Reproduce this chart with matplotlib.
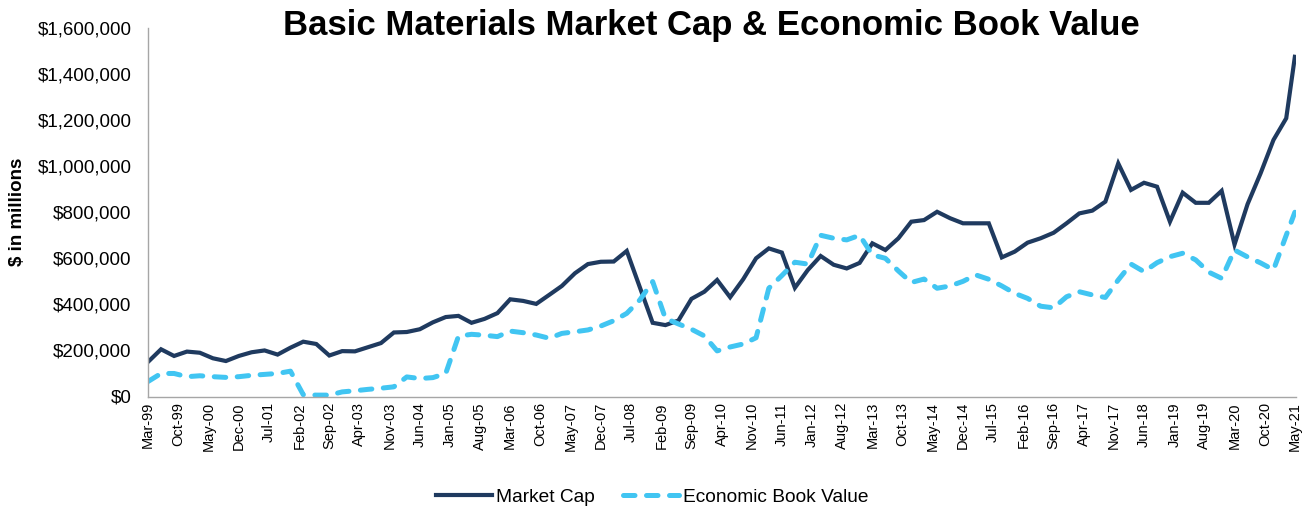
import matplotlib
matplotlib.use("Agg")
import matplotlib.pyplot as plt
import matplotlib.dates as mdates
from matplotlib.ticker import FuncFormatter
import pandas as pd

plt.rcParams['font.family'] = ['Liberation Sans', 'DejaVu Sans']

# quarterly points Mar-99 .. Mar-21, then May-21
dates = list(pd.date_range('1999-03-01', '2021-03-01', freq='3MS')) + [pd.Timestamp('2021-05-01')]

# $ millions
market_cap = [150000, 205000, 176000, 195000, 190000, 166000, 154000, 176000, 192000, 200000,
              182000, 212000, 238000, 228000, 178000, 197000, 196000, 214000, 232000, 278000,
              280000, 292000, 322000, 345000, 350000, 320000, 337000, 362000, 422000, 415000,
              402000, 441000, 480000, 535000, 575000, 585000, 586000, 632000, 475000, 320000,
              310000, 330000, 424000, 455000, 506000, 431000, 509000, 600000, 643000, 625000,
              472000, 549000, 610000, 572000, 556000, 580000, 665000, 636000, 687000, 759000,
              766000, 802000, 774000, 752000, 752000, 752000, 604000, 629000, 668000, 687000,
              711000, 752000, 795000, 807000, 846000, 1012000, 897000, 928000, 911000, 759000,
              885000, 841000, 841000, 893000, 660000, 835000, 969000, 1114000, 1208000, 1475000]

book_value = [65000, 100000, 100000, 86000, 90000, 86000, 83000, 86000, 92000, 96000,
              100000, 110000, 8000, 6000, 6000, 20000, 25000, 31000, 36000, 42000,
              85000, 78000, 82000, 100000, 262000, 270000, 266000, 260000, 284000, 277000,
              267000, 253000, 274000, 281000, 289000, 306000, 329000, 361000, 419000, 499000,
              339000, 315000, 292000, 263000, 198000, 215000, 228000, 255000, 470000, 525000,
              583000, 575000, 700000, 687000, 680000, 700000, 615000, 600000, 545000, 495000,
              510000, 470000, 480000, 500000, 528000, 509000, 480000, 448000, 426000, 392000,
              385000, 433000, 455000, 441000, 430000, 506000, 575000, 542000, 581000, 607000,
              622000, 593000, 540000, 513000, 636000, 606000, 580000, 550000, 700000, 800000]

tick_dates = pd.date_range('1999-03-01', '2021-05-01', freq='7MS')

fig = plt.figure(figsize=(13.12, 5.09), dpi=100)
ax = fig.add_axes([148/1312, 1-396.5/509, (1296-148)/1312, (396.5-28)/509])

ax.plot(dates, market_cap, color='#1f3a5f', lw=3.0, solid_joinstyle='miter', label='Market Cap')
ax.plot(dates, book_value, color='#41c5f2', lw=3.6, dashes=(2.3, 2.3),
        dash_capstyle='round', label='Economic Book Value')

ax.set_ylim(0, 1600000)
ax.set_yticks(range(0, 1600001, 200000))
ax.yaxis.set_major_formatter(FuncFormatter(lambda v, p: '${:,.0f}'.format(v)))
ax.set_xlim(dates[0], dates[-1] + pd.Timedelta(days=8))
ax.set_xticks(tick_dates)
ax.xaxis.set_major_formatter(mdates.DateFormatter('%b-%y'))
ax.tick_params(axis='x', labelsize=10.5, rotation=90, length=0, pad=4)
ax.tick_params(axis='y', labelsize=13.5, length=0, pad=12)

for s in ['top', 'right']:
    ax.spines[s].set_visible(False)
for s in ['left', 'bottom']:
    ax.spines[s].set_color('#a6a6a6')
    ax.spines[s].set_linewidth(1)

fig.text(0.542, 1-26/509, 'Basic Materials Market Cap & Economic Book Value',
         ha='center', va='center', fontsize=25, fontweight='bold')
fig.text(18/1312, 1-212/509, '$ in millions', rotation=90, ha='center', va='center',
         fontsize=13.5, fontweight='bold')

fig.legend(loc='center', bbox_to_anchor=(0.497, 1-497/509), ncol=2, frameon=False,
           fontsize=13.8, handlelength=2.9, columnspacing=1.5, handletextpad=0.2)

fig.savefig('out.png', dpi=100)
